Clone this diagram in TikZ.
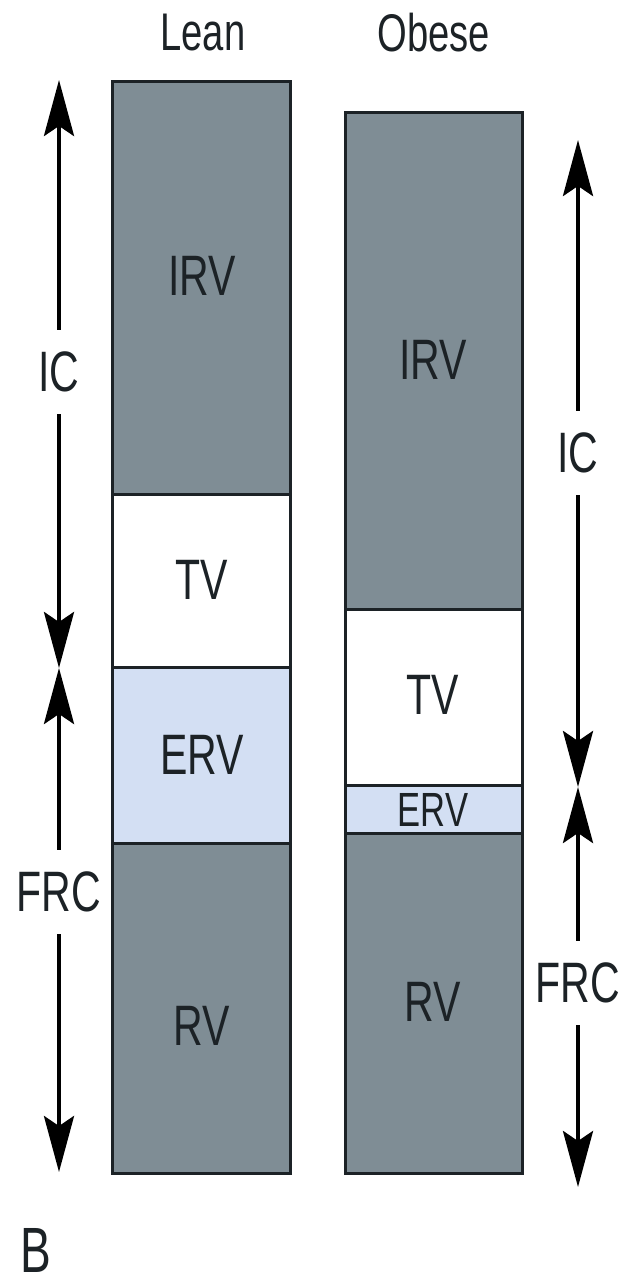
\documentclass[tikz,border=0pt]{standalone}
\usepackage{fontspec}
\setmainfont{Liberation Sans}
\newfontfamily\cond[FakeStretch=0.72]{Liberation Sans}
\usetikzlibrary{arrows.meta}
\definecolor{slate}{HTML}{7F8D95}
\definecolor{paleblue}{HTML}{D3DFF3}
\definecolor{ink}{HTML}{1C2226}
\begin{document}
\begin{tikzpicture}[x=1pt,y=-1pt,
  seg/.style={draw=ink, line width=3pt, inner sep=0pt, outer sep=0pt, anchor=north west},
  gray seg/.style={seg, fill=slate},
  white seg/.style={seg, fill=white},
  blue seg/.style={seg, fill=paleblue},
  vol/.style={inner sep=0pt, text=ink, font=\cond\fontsize{57}{57}\selectfont},
  small vol/.style={vol, font=\cond\fontsize{48}{48}\selectfont},
  head/.style={inner sep=0pt, text=ink, font=\cond\fontsize{53}{53}\selectfont},
  capacity/.style={inner xsep=0pt, inner ysep=22pt, text=ink, font=\cond\fontsize{57}{57}\selectfont},
  arr/.style={draw=black, line width=4pt, -{Stealth[length=56pt, width=30pt, inset=10pt]}}]
\path[use as bounding box] (0,0) rectangle (621,1284);

% column headings
\node[head] (lean) at (203,33) {Lean};
\node[head] (obese) at (434,33) {Obese};

% lean lung column
\node[gray seg,  minimum width=178pt, minimum height=412pt] (lirv) at (112,82) {};
\node[white seg, minimum width=178pt, minimum height=173pt] (ltv) at (112,494) {};
\node[blue seg,  minimum width=178pt, minimum height=176pt] (lerv) at (112,667) {};
\node[gray seg,  minimum width=178pt, minimum height=330pt] (lrv) at (112,843) {};
\node[vol] (lirvt) at (202,276) {IRV};
\node[vol] (ltvt) at (202,580) {TV};
\node[vol] (lervt) at (202,755) {ERV};
\node[vol] (lrvt) at (202,1026) {RV};

% obese lung column
\node[gray seg,  minimum width=177pt, minimum height=496pt] (oirv) at (345,113) {};
\node[white seg, minimum width=177pt, minimum height=176pt] (otv) at (345,609) {};
\node[blue seg,  minimum width=177pt, minimum height=48pt] (oerv) at (345,785) {};
\node[gray seg,  minimum width=177pt, minimum height=340pt] (orv) at (345,833) {};
\node[vol] (oirvt) at (433,360) {IRV};
\node[vol] (otvt) at (433,695) {TV};
\node[small vol] (oervt) at (433,810) {ERV};
\node[vol] (orvt) at (433,1002) {RV};

% lean capacities
\coordinate (lictop) at (59,80);
\coordinate (lmid) at (59,668);
\coordinate (lbot) at (59,1172);
\node[capacity] (lic) at (59,372) {IC};
\node[capacity] (lfrc) at (59,892) {FRC};
\draw[arr] (lic) -- (lictop);
\draw[arr] (lic) -- (lmid);
\draw[arr] (lfrc) -- (lmid);
\draw[arr] (lfrc) -- (lbot);

% obese capacities
\coordinate (rictop) at (578,140);
\coordinate (rmid) at (578,787);
\coordinate (rbot) at (578,1187);
\node[capacity] (ric) at (578,453) {IC};
\node[capacity] (rfrc) at (578,983) {FRC};
\draw[arr] (ric) -- (rictop);
\draw[arr] (ric) -- (rmid);
\draw[arr] (rfrc) -- (rmid);
\draw[arr] (rfrc) -- (rbot);

% panel letter
\node[inner sep=0pt, text=ink, font=\cond\fontsize{64}{64}\selectfont] (panel) at (36,1250) {B};
\end{tikzpicture}
\end{document}
